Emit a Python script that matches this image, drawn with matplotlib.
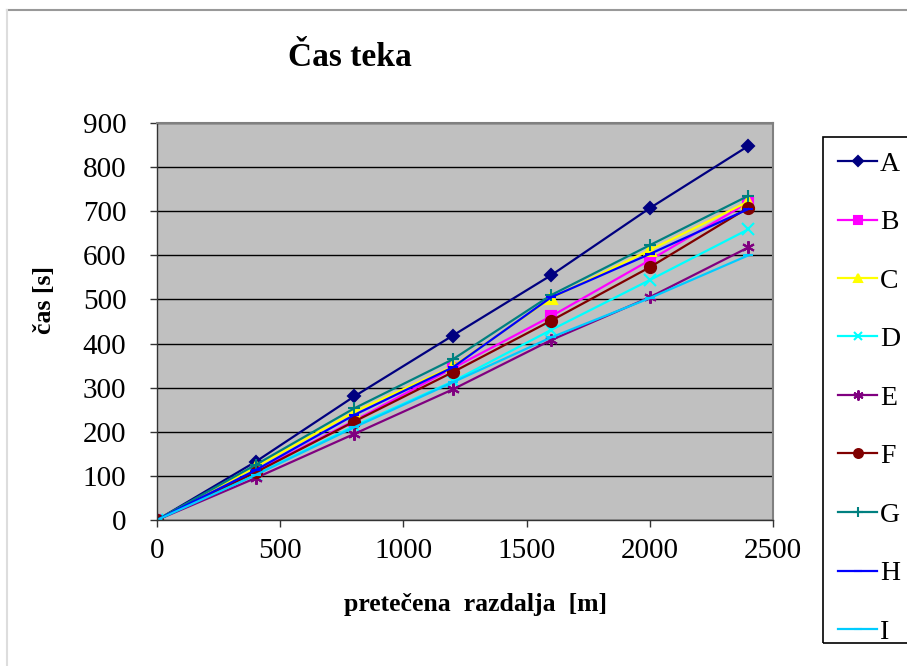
import numpy as np
import matplotlib
matplotlib.use("Agg")
import matplotlib.pyplot as plt
from matplotlib.lines import Line2D
from matplotlib.patches import Rectangle

plt.rcParams['font.family'] = ['Liberation Serif', 'DejaVu Serif']

# distance run [m]
distance = [0, 400, 800, 1200, 1600, 2000, 2400]

# time [s] per runner
A = [0, 132, 280, 418, 555, 707, 848]
B = [0, 110, 225, 344, 462, 589, 720]
C = [0, 120, 245, 348, 503, 612, 722]
D = [0, 103, 213, 314, 431, 544, 659]
E = [0, 95, 195, 296, 408, 505, 618]
F = [0, 108, 223, 335, 452, 573, 708]
G = [0, 125, 253, 364, 510, 623, 735]
H = [0, 113, 238, 346, 505, 603, 705]
I = [0, 102, 210, 312, 414, 503, 600]

names = ["A", "B", "C", "D", "E", "F", "G", "H", "I"]
series = [A, B, C, D, E, F, G, H, I]

colors = ["#000080", "#FF00FF", "#FFFF00", "#00FFFF", "#800080",
          "#800000", "#008080", "#0000FF", "#00CCFF"]
asterisk = (6, 2, 0)
markers = ["D", "s", "^", "x", asterisk, "o", "+", "_", "_"]
msizes = [6, 7, 8, 8, 9, 8, 9, 7, 7]

fig = plt.figure(figsize=(9.07, 6.66), dpi=100)
ax = fig.add_axes([157/907, 1 - 520/666, (773-157)/907, (520-123)/666])
ax.set_facecolor("#C0C0C0")

for name, vals, c, m, ms in zip(names, series, colors, markers, msizes):
    ax.plot(distance, vals, color=c, marker=m, markersize=ms, lw=1.6,
            markeredgewidth=1.5, label=name)

ax.set_xlim(0, 2500)
ax.set_ylim(0, 900)
ax.set_xticks(np.arange(0, 2501, 500))
ax.set_yticks(np.arange(0, 901, 100))
ax.yaxis.grid(True, color="black", lw=1.0)
ax.set_axisbelow(True)
ax.tick_params(axis="both", labelsize=21, direction="out", length=5, width=1,
               color="#333333")
ax.tick_params(axis="y", pad=17)
ax.tick_params(axis="x", pad=8)

for s in ["top", "right"]:
    ax.spines[s].set_color("#808080")
    ax.spines[s].set_linewidth(1.5)
for s in ["left", "bottom"]:
    ax.spines[s].set_color("#333333")
    ax.spines[s].set_linewidth(1.0)

fig.text(350/907, 1 - 57/666, "Čas teka", fontsize=24, fontweight="bold",
         ha="center", va="center")
fig.text(475/907, 1 - 604/666, "pretečena  razdalja  [m]", fontsize=18.5,
         fontweight="bold", ha="center", va="center")
fig.text(45/907, 1 - 300/666, "čas [s]", fontsize=18.5, fontweight="bold",
         rotation=90, ha="center", va="center")

leg = ax.legend(loc="upper left", bbox_to_anchor=(823/907, 1 - 136/666),
                bbox_transform=fig.transFigure, fontsize=20, frameon=False,
                handlelength=1.4, handletextpad=0.1, labelspacing=1.19,
                borderpad=0.55, borderaxespad=0, markerscale=0.8)

# legend box drawn separately, runs off the right edge like the original
fig.add_artist(Rectangle((823/907, 1 - 643/666), 0.2, (643-137)/666,
                         transform=fig.transFigure, fill=False,
                         edgecolor="black", lw=1.2))

# outer chart border
fig.add_artist(Line2D([7/907, 1], [1 - 10/666, 1 - 10/666],
                      transform=fig.transFigure, color="#999999", lw=1.5))
fig.add_artist(Line2D([7/907, 7/907], [0, 1 - 10/666],
                      transform=fig.transFigure, color="#DDDDDD", lw=1.5))

fig.savefig("out.png", dpi=100)
